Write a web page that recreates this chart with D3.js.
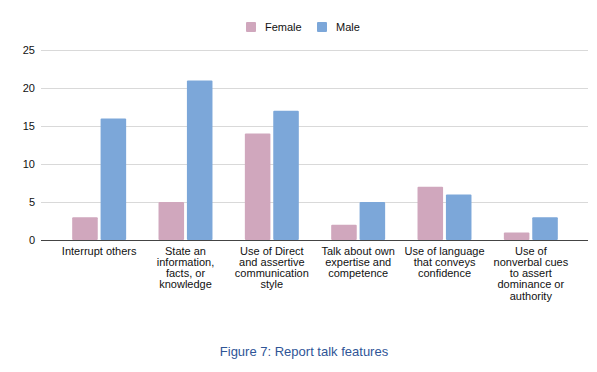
<!DOCTYPE html>
<html>
<head>
<meta charset="utf-8">
<script src="https://cdn.jsdelivr.net/npm/d3@7"></script>
<style>
  html, body { margin: 0; padding: 0; background: #fff; }
  svg { display: block; font-family: "Liberation Sans", Arial, sans-serif; }
</style>
</head>
<body>
<svg id="chart" width="597" height="372"></svg>
<script>
const categories = [
  "Interrupt others",
  "State an information, facts, or knowledge",
  "Use of Direct and assertive communication style",
  "Talk about own expertise and competence",
  "Use of language that conveys confidence",
  "Use of nonverbal cues to assert dominance or authority"
];
const categoryLines = [
  ["Interrupt others"],
  ["State an", "information,", "facts, or", "knowledge"],
  ["Use of Direct", "and assertive", "communication", "style"],
  ["Talk about own", "expertise and", "competence"],
  ["Use of language", "that conveys", "confidence"],
  ["Use of", "nonverbal cues", "to assert", "dominance or", "authority"]
];
const seriesNames = ["Female", "Male"];
const female = [3, 5, 14, 2, 7, 1];
const male = [16, 21, 17, 5, 6, 3];
const yTicks = [0, 5, 10, 15, 20, 25];
const colors = ["#d0a7bd", "#7ca7d9"];
const title = "Figure 7: Report talk features";

const svg = d3.select("#chart");
const series = [female, male];

const x = d3.scaleBand().domain(categories).range([56, 574])
  .paddingInner(0.375).paddingOuter(0.1875);
const x1 = d3.scaleBand().domain(seriesNames).range([0, x.bandwidth()])
  .paddingInner(0.1).paddingOuter(0);
const y = d3.scaleLinear().domain([0, 25]).range([240, 50]);

// gridlines
svg.append("g").selectAll("line").data(yTicks.filter(d => d !== 0)).join("line")
  .attr("x1", 41).attr("x2", 588)
  .attr("y1", d => y(d) + 0.5).attr("y2", d => y(d) + 0.5)
  .attr("stroke", "#d9d9d9").attr("stroke-width", 1);

// y labels
svg.append("g").selectAll("text").data(yTicks).join("text")
  .attr("x", 35).attr("y", d => y(d)).attr("dy", "0.35em")
  .attr("text-anchor", "end").attr("font-size", 11).attr("fill", "#111")
  .text(d => d);

// bars
const groups = svg.append("g").selectAll("g").data(categories).join("g")
  .attr("transform", d => `translate(${x(d)},0)`);
groups.selectAll("rect").data((d, i) => seriesNames.map((s, j) => ({s, v: series[j][i], j})))
  .join("rect")
  .attr("x", d => x1(d.s))
  .attr("y", d => y(d.v))
  .attr("width", x1.bandwidth())
  .attr("height", d => y(0) - y(d.v))
  .attr("fill", d => colors[d.j])
  .attr("rx", 1);

// baseline
svg.append("line").attr("x1", 41).attr("x2", 588)
  .attr("y1", y(0) + 0.5).attr("y2", y(0) + 0.5)
  .attr("stroke", "#444").attr("stroke-width", 1);

// x labels
const lab = svg.append("g").selectAll("text").data(categories).join("text")
  .attr("text-anchor", "middle").attr("font-size", 11).attr("fill", "#111")
  .attr("transform", d => `translate(${x(d) + x.bandwidth() / 2},254.5)`);
lab.selectAll("tspan").data((d, i) => categoryLines[i]).join("tspan")
  .attr("x", 0).attr("y", (d, k) => k * 11.25).text(d => d);

// legend
const legendX = [246, 317];
const leg = svg.append("g").selectAll("g").data(seriesNames).join("g")
  .attr("transform", (d, i) => `translate(${legendX[i]},22)`);
leg.append("rect").attr("width", 10).attr("height", 10).attr("rx", 1)
  .attr("fill", (d, i) => colors[i]);
leg.append("text").attr("x", 19).attr("y", 5).attr("dy", "0.35em")
  .attr("font-size", 11).attr("fill", "#111").text(d => d);

// title
svg.append("text").attr("x", 304).attr("y", 351).attr("dy", "0.35em")
  .attr("text-anchor", "middle").attr("font-size", 13).attr("fill", "#2f5597")
  .text(title);
</script>
</body>
</html>
